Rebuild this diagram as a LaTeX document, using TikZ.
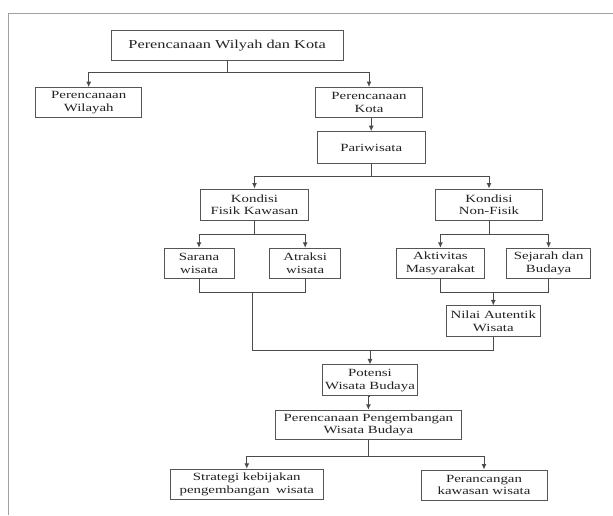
\documentclass[tikz,border=0pt]{standalone}
\usepackage{fontspec}
\setmainfont{Liberation Serif}[FakeStretch=1.35]
\usetikzlibrary{arrows.meta}
\definecolor{framegray}{HTML}{A0A0A0}
\definecolor{boxgray}{HTML}{555555}
\definecolor{linegray}{HTML}{4A4A4A}
\definecolor{txtgray}{HTML}{222222}
\begin{document}
\begin{tikzpicture}[x=1pt,y=-1pt,
  boxnode/.style={draw=boxgray, line width=1pt, align=center, inner sep=0pt,
    text=txtgray, font=\fontsize{11}{12.5}\selectfont, minimum height=30pt},
  conn/.style={draw=linegray, line width=1pt},
  arr/.style={conn, -{Latex[length=5.5pt,width=5pt]}}]
\useasboundingbox[fill=white] (0,0) rectangle (613,515);
% outer frame
\draw[framegray, line width=1pt] (8.3,515) -- (8.3,13.3) -- (613,13.3);

% nodes
\node[boxnode, minimum width=232pt, minimum height=30.5pt, font=\fontsize{12.1}{14}\selectfont] (top) at (227.2,45.3) {Perencanaan Wilyah dan Kota};
\node[boxnode, minimum width=106pt] (wil) at (88.7,102.7) {Perencanaan\\Wilayah};
\node[boxnode, minimum width=107pt] (kota) at (369,102.5) {Perencanaan\\Kota};
\node[boxnode, minimum width=107.6pt, minimum height=31.6pt] (pari) at (371.2,147.5) {Pariwisata};
\node[boxnode, minimum width=108.6pt, minimum height=31pt] (fisik) at (254.5,204.5) {Kondisi\\Fisik Kawasan};
\node[boxnode, minimum width=106.3pt, minimum height=31pt] (nonf) at (489,204.5) {Kondisi\\Non-Fisik};
\node[boxnode, minimum width=70pt] (sarana) at (199,263.3) {Sarana\\wisata};
\node[boxnode, minimum width=71.3pt] (atraksi) at (305.2,263.3) {Atraksi\\wisata};
\node[boxnode, minimum width=87.2pt] (aktiv) at (440.4,263.3) {Aktivitas\\Masyarakat};
\node[boxnode, minimum width=84.7pt] (sejarah) at (548.6,263.3) {Sejarah dan\\Budaya};
\node[boxnode, minimum width=94.5pt, minimum height=30.5pt] (nilai) at (493.3,321.2) {Nilai Autentik\\Wisata};
\node[boxnode, minimum width=95pt, minimum height=30.7pt] (potensi) at (370,380.3) {Potensi\\Wisata Budaya};
\node[boxnode, minimum width=186.2pt, minimum height=29.4pt] (peng) at (368.4,425) {Perencanaan Pengembangan\\Wisata Budaya};
\node[boxnode, minimum width=153.5pt, minimum height=30.7pt] (strat) at (246.8,484.6) {Strategi kebijakan\\pengembangan\hspace{0.6em}wisata};
\node[boxnode, minimum width=126pt] (peranc) at (484,485) {Perancangan\\kawasan wisata};

% junction levels
\coordinate (ya) at (0,72.7);
\coordinate (yb) at (0,176);
\coordinate (yc) at (0,234.3);
\coordinate (yd) at (0,292.7);
\coordinate (ye) at (0,350);
\coordinate (yf) at (0,456);
\coordinate (mfx) at (252,0);

% connectors
\draw[conn] (top.south) -- (top.south |- ya);
\draw[arr] (top.south |- ya) -| (wil.north);
\draw[arr] (top.south |- ya) -| (kota.north);

\draw[arr] (pari.north |- kota.south) -- (pari.north);

\draw[conn] (pari.south) -- (pari.south |- yb);
\draw[arr] (pari.south |- yb) -| (fisik.north);
\draw[arr] (pari.south |- yb) -| (nonf.north);

\draw[conn] (fisik.south) -- (fisik.south |- yc);
\draw[arr] (fisik.south |- yc) -| (sarana.north);
\draw[arr] (fisik.south |- yc) -| (atraksi.north);

\draw[conn] (nonf.south) -- (nonf.south |- yc);
\draw[arr] (nonf.south |- yc) -| (aktiv.north);
\draw[arr] (nonf.south |- yc) -| (sejarah.north);

\draw[conn] (sarana.south) -- (sarana.south |- yd) -- (atraksi.south |- yd) -- (atraksi.south);
\draw[conn] (mfx |- yd) -- (mfx |- ye) -- (nilai.south |- ye) -- (nilai.south);
\draw[arr] (potensi.north |- ye) -- (potensi.north);

\draw[conn] (aktiv.south) -- (aktiv.south |- yd) -- (sejarah.south |- yd) -- (sejarah.south);
\draw[arr] (nilai.north |- yd) -- (nilai.north);

\draw[arr] (potensi.south) -- (peng.north |- potensi.south) -- (peng.north);

\draw[conn] (peng.south) -- (peng.south |- yf);
\draw[arr] (peng.south |- yf) -| (strat.north);
\draw[arr] (peng.south |- yf) -| (peranc.north);
\end{tikzpicture}
\end{document}
